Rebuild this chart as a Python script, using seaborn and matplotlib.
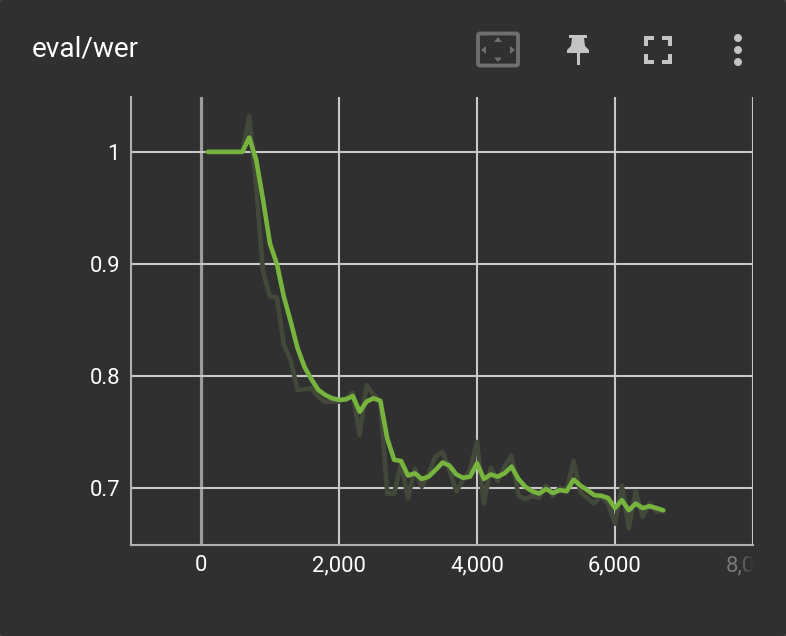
import numpy as np
import pandas as pd
import matplotlib
matplotlib.use("Agg")
import matplotlib.pyplot as plt
import seaborn as sns
from matplotlib.patches import FancyBboxPatch, Polygon, Rectangle, Circle

steps = list(range(100, 6800, 100))
wer_raw = [1.0, 1.0, 1.0, 1.0, 1.0, 1.0, 1.032, 0.969, 0.893, 0.871, 0.870, 0.828, 0.814, 0.7875, 0.788, 0.789, 0.7815, 0.777, 0.777, 0.777,
           0.780, 0.785, 0.747, 0.792, 0.783, 0.777, 0.695, 0.695, 0.722, 0.6905, 0.717, 0.701, 0.713, 0.728, 0.732, 0.716, 0.697, 0.707, 0.716, 0.741,
           0.686, 0.718, 0.706, 0.719, 0.729, 0.693, 0.690, 0.693, 0.691, 0.702, 0.693, 0.700, 0.698, 0.724, 0.696, 0.691, 0.686, 0.693, 0.686, 0.668,
           0.702, 0.664, 0.697, 0.674, 0.686, 0.679, 0.679]
wer_smooth = [1.0, 1.0, 1.0, 1.0, 1.0, 1.0, 1.0128, 0.993, 0.957, 0.918, 0.9, 0.871, 0.8485, 0.8247, 0.808, 0.797, 0.7875, 0.783, 0.78, 0.7786,
              0.779, 0.782, 0.768, 0.777, 0.78, 0.7777, 0.744, 0.725, 0.724, 0.711, 0.713, 0.708, 0.71, 0.716, 0.7226, 0.72, 0.712, 0.709, 0.71, 0.722,
              0.708, 0.712, 0.71, 0.713, 0.719, 0.708, 0.701, 0.697, 0.695, 0.699, 0.6955, 0.698, 0.697, 0.7074, 0.702, 0.698, 0.6935, 0.693, 0.691, 0.682,
              0.689, 0.68, 0.686, 0.682, 0.6836, 0.682, 0.68]
x_ticks = [0, 2000, 4000, 6000, 8000]
y_ticks = [0.7, 0.8, 0.9, 1.0]
y_labels = ["0.7", "0.8", "0.9", "1"]

BG = "#303030"
W, H = 786, 636

sns.set_theme(style="dark")
plt.rcParams["font.family"] = ["Roboto", "DejaVu Sans"]

df = pd.DataFrame({"step": steps, "raw": wer_raw, "smooth": wer_smooth})

fig = plt.figure(figsize=(W / 100, H / 100), dpi=100, facecolor="#454545")

# card background and header icons, in pixel coords
deco = fig.add_axes([0, 0, 1, 1], zorder=0)
deco.set_xlim(0, W)
deco.set_ylim(H, 0)
deco.axis("off")
deco.add_patch(FancyBboxPatch((0, 0), W, H, boxstyle="round,pad=0,rounding_size=4", fc=BG, ec="none", lw=0))

ax = fig.add_axes([131 / W, 1 - 545 / H, (753 - 131) / W, (545 - 97) / H], zorder=1)
ax.set_facecolor("none")
sns.lineplot(data=df, x="step", y="raw", ax=ax, color="#42483a", linewidth=3.3, zorder=3)
sns.lineplot(data=df, x="step", y="smooth", ax=ax, color="#76b43e", linewidth=3.3, zorder=4)
ax.set_xlim(-1014, 8000)
ax.set_ylim(0.649, 1.049)
ax.set_xlabel("")
ax.set_ylabel("")

ax.set_xticks(x_ticks)
ax.set_xticklabels([f"{t:,}" for t in x_ticks])
ax.set_yticks(y_ticks)
ax.set_yticklabels(y_labels)
ax.tick_params(length=0, labelsize=15.8, labelcolor="white")
ax.tick_params(axis="x", pad=7.5)
ax.tick_params(axis="y", pad=8)
ax.grid(True, color="#c8c8c8", linewidth=1.5, zorder=1)
ax.set_axisbelow(True)
for gl in ax.get_xgridlines()[:1]:
    gl.set_color("#9c9c9c")
    gl.set_linewidth(2.3)
for side in ["top", "right"]:
    ax.spines[side].set_visible(False)
for side in ["left", "bottom"]:
    ax.spines[side].set_color("#b0b0b0")
    ax.spines[side].set_linewidth(1.5)

# the last tick label gets cut by the card edge and fades out
last = ax.get_xticklabels()[-1]
last.set_color("#7a7a7a")
last.set_clip_box(Rectangle((0, 0), 753, H, transform=None).get_bbox())
last.set_clip_on(True)
fade = fig.add_axes([738 / W, 1 - 580 / H, 16 / W, 30 / H], zorder=2)
fade_cols = np.zeros((1, 32, 4))
fade_cols[..., :3] = matplotlib.colors.to_rgb(BG)
fade_cols[..., 3] = np.linspace(0, 1, 32)
fade.imshow(fade_cols, aspect="auto")
fade.axis("off")

fig.text(32 / W, 1 - 49 / H, "eval/wer", color="white", fontsize=20.2, va="center", ha="left")

# fit-domain icon
grey = "#6e6e6e"
deco.add_patch(FancyBboxPatch((478, 33.5), 40, 32, boxstyle="round,pad=0,rounding_size=2", fc="none", ec=grey, lw=2.8))
deco.add_patch(Polygon([[498, 37], [494, 42], [502, 42]], fc=grey, lw=0))
deco.add_patch(Polygon([[498, 62], [494, 57.5], [502, 57.5]], fc=grey, lw=0))
deco.add_patch(Polygon([[481, 50], [486, 46], [486, 54]], fc=grey, lw=0))
deco.add_patch(Polygon([[515, 50], [510, 46], [510, 54]], fc=grey, lw=0))

# pin icon
icon = "#c4c4c4"
deco.add_patch(Polygon([[569, 35], [587, 35], [587, 38], [584, 38], [585, 46], [589, 50], [589, 53], [567, 53], [567, 50], [571, 46], [572, 38], [569, 38]], fc=icon, lw=0))
deco.add_patch(Rectangle((577, 53), 2.5, 12, fc=icon, lw=0))

# fullscreen icon
for x0, y0, dx, dy in [(644, 36, 1, 1), (672, 36, -1, 1), (644, 64, 1, -1), (672, 64, -1, -1)]:
    deco.add_patch(Rectangle((x0, y0), dx * 10, dy * 4, fc=icon, lw=0))
    deco.add_patch(Rectangle((x0, y0), dx * 4, dy * 10, fc=icon, lw=0))

# overflow dots
for cy in [38, 50, 62]:
    deco.add_patch(Circle((738, cy), 4, fc=icon, lw=0))

fig.savefig("out.png", dpi=100, facecolor=fig.get_facecolor())
